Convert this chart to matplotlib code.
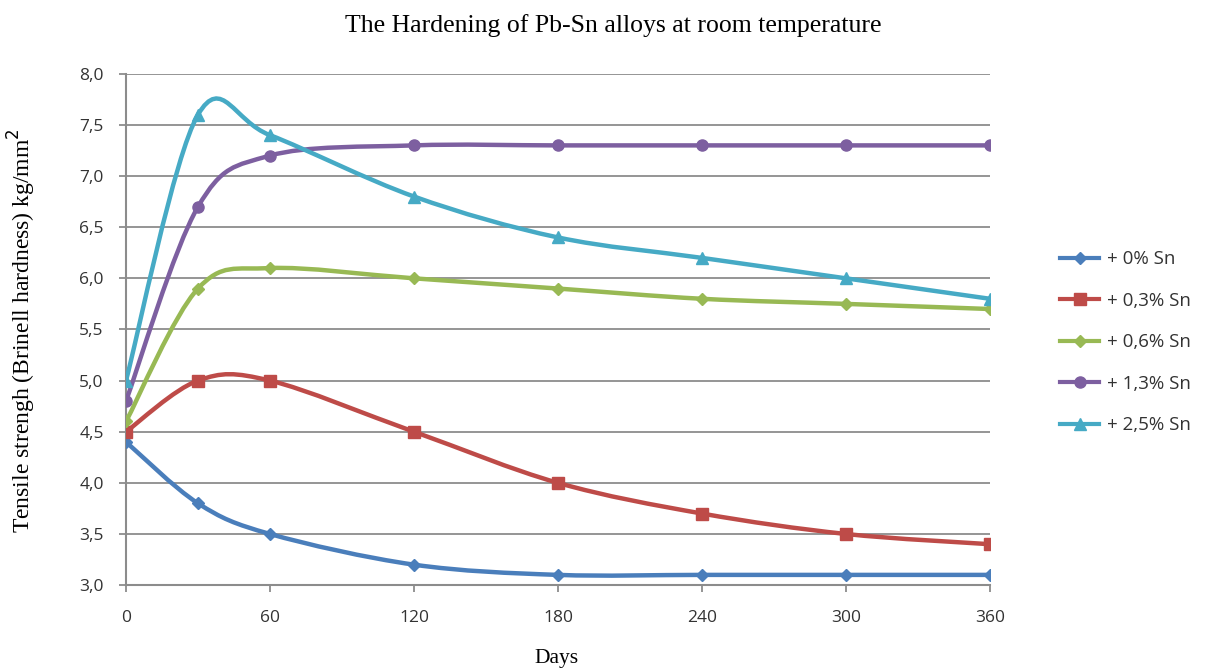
import matplotlib
matplotlib.use("Agg")
import matplotlib.pyplot as plt
import numpy as np
from matplotlib.path import Path
from matplotlib.patches import PathPatch
from matplotlib.lines import Line2D

days = [0, 30, 60, 120, 180, 240, 300, 360]
sn_0 = [4.4, 3.8, 3.5, 3.2, 3.1, 3.1, 3.1, 3.1]
sn_03 = [4.5, 5.0, 5.0, 4.5, 4.0, 3.7, 3.5, 3.4]
sn_06 = [4.6, 5.9, 6.1, 6.0, 5.9, 5.8, 5.75, 5.7]
sn_13 = [4.8, 6.7, 7.2, 7.3, 7.3, 7.3, 7.3, 7.3]
sn_25 = [5.0, 7.6, 7.4, 6.8, 6.4, 6.2, 6.0, 5.8]
labels = ["+ 0% Sn", "+ 0,3% Sn", "+ 0,6% Sn", "+ 1,3% Sn", "+ 2,5% Sn"]
colors = ["#4a7ebb", "#be4b48", "#98b954", "#7d5fa0", "#46aac5"]
markers = ["D", "s", "D", "o", "^"]
msizes = [6, 8, 6, 8, 8]
x_ticks = [0, 60, 120, 180, 240, 300, 360]
y_ticks = [3.0, 3.5, 4.0, 4.5, 5.0, 5.5, 6.0, 6.5, 7.0, 7.5, 8.0]


def smooth_path(x, y):
    # excel-style smoothed line: bezier segments, catmull-rom control points
    pts = np.column_stack([x, y]).astype(float)
    verts = [pts[0]]
    codes = [Path.MOVETO]
    n = len(pts)
    for i in range(n - 1):
        p0 = pts[i - 1] if i > 0 else pts[i]
        p1 = pts[i]
        p2 = pts[i + 1]
        p3 = pts[i + 2] if i + 2 < n else pts[i + 1]
        c1 = p1 + (p2 - p0) / 6.0
        c2 = p2 - (p3 - p1) / 6.0
        verts += [c1, c2, p2]
        codes += [Path.CURVE4] * 3
    return Path(verts, codes)


fig = plt.figure(figsize=(12.15, 6.71), dpi=100)
ax = fig.add_axes([0.1037, 0.128, 0.711, 0.762])

series = [sn_0, sn_03, sn_06, sn_13, sn_25]
handles = []
for vals, c, m, ms, lab in zip(series, colors, markers, msizes, labels):
    patch = PathPatch(smooth_path(days, vals), facecolor="none", edgecolor=c,
                      lw=3.2, capstyle="round", joinstyle="round", zorder=3)
    ax.add_patch(patch)
    ax.plot(days, vals, linestyle="none", marker=m, ms=ms, color=c, zorder=4)
    handles.append(Line2D([], [], color=c, lw=3, marker=m, ms=ms, label=lab))

ax.set_xlim(0, 360)
ax.set_ylim(3.0, 8.0)
ax.set_xticks(x_ticks)
ax.set_yticks(y_ticks)
ax.set_yticklabels([("%.1f" % v).replace(".", ",") for v in y_ticks])
ax.grid(axis="y", color="#8c8c8c", lw=1.3)
ax.set_axisbelow(True)
for s in ["top", "right"]:
    ax.spines[s].set_visible(False)
for s in ["left", "bottom"]:
    ax.spines[s].set_color("#8c8c8c")
    ax.spines[s].set_linewidth(1.5)
ax.tick_params(axis="both", colors="#8c8c8c", length=5, width=1.3,
               labelcolor="#333333", labelsize=12.5)
ax.tick_params(axis="x", pad=13)
ax.tick_params(axis="y", pad=11)
for t in ax.get_xticklabels() + ax.get_yticklabels():
    t.set_family("Open Sans")

serif = "Liberation Serif"
fig.text(0.505, 0.962, "The Hardening of Pb-Sn alloys at room temperature",
         ha="center", va="center", family=serif, fontsize=18.5)
fig.text(0.458, 0.018, "Days", ha="center", va="center", family=serif, fontsize=15.5)
fig.text(0.018, 0.508, "Tensile strengh (Brinell hardness) kg/mm$^2$", ha="center",
         va="center", rotation=90, family=serif, fontsize=17)

leg = fig.legend(handles=handles, loc="center left", bbox_to_anchor=(0.8724, 0.49),
                 frameon=False, labelspacing=1.25, handlelength=2.1,
                 handletextpad=0.4, borderpad=0, borderaxespad=0,
                 prop={"family": "Open Sans", "size": 13.5})
for t in leg.get_texts():
    t.set_color("#333333")

fig.savefig("out.png", dpi=100)
